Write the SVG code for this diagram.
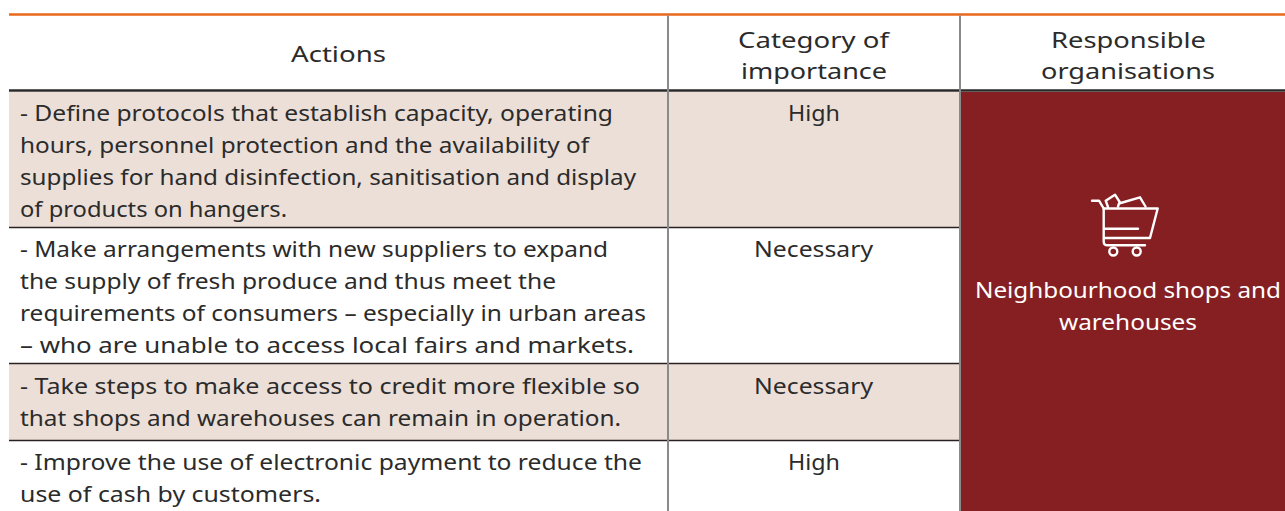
<svg xmlns="http://www.w3.org/2000/svg" width="1285" height="511" viewBox="0 0 1285 511">
<style>
.t{font-family:"Noto Sans","Open Sans","Liberation Sans",sans-serif;font-size:21.5px;fill:#2b2b2b}
.h{font-family:"Noto Sans","Open Sans","Liberation Sans",sans-serif;font-size:22.5px;fill:#2b2b2b;text-anchor:middle}
.c{text-anchor:middle}
.w{font-family:"Noto Sans","Open Sans","Liberation Sans",sans-serif;font-size:21.5px;fill:#ffffff;text-anchor:middle}
.shade{fill:#ecdfd8}
.rowline{stroke:#2a2222;stroke-width:1.5}
.colline{stroke:#8a8a8a;stroke-width:2}
.icon{fill:none;stroke:#ffffff;stroke-width:2.4;stroke-linecap:round;stroke-linejoin:round}
</style>
<rect width="1285" height="511" fill="#ffffff"/>
<g id="header">
<line x1="9" y1="14.5" x2="1285" y2="14.5" stroke="#e8681c" stroke-width="2.5"/>
<text class="h" x="338.5" y="62" textLength="95" lengthAdjust="spacingAndGlyphs">Actions</text>
<text class="h" x="813.5" y="48" textLength="151" lengthAdjust="spacingAndGlyphs">Category of</text>
<text class="h" x="814" y="79" textLength="146" lengthAdjust="spacingAndGlyphs">importance</text>
<text class="h" x="1128.5" y="48" textLength="155" lengthAdjust="spacingAndGlyphs">Responsible</text>
<text class="h" x="1128" y="79" textLength="174" lengthAdjust="spacingAndGlyphs">organisations</text>
</g>
<g id="row1">
<rect class="shade" x="9" y="92" width="951" height="135"/>
<text class="t" x="20" y="121" textLength="593" lengthAdjust="spacingAndGlyphs">- Define protocols that establish capacity, operating</text>
<text class="t" x="20" y="153" textLength="569" lengthAdjust="spacingAndGlyphs">hours, personnel protection and the availability of</text>
<text class="t" x="20" y="185" textLength="616" lengthAdjust="spacingAndGlyphs">supplies for hand disinfection, sanitisation and display</text>
<text class="t" x="20" y="217" textLength="267" lengthAdjust="spacingAndGlyphs">of products on hangers.</text>
<text class="t c" x="814" y="121" textLength="52" lengthAdjust="spacingAndGlyphs">High</text>
</g>
<g id="row2">
<text class="t" x="20" y="257" textLength="588" lengthAdjust="spacingAndGlyphs">- Make arrangements with new suppliers to expand</text>
<text class="t" x="20" y="289" textLength="536" lengthAdjust="spacingAndGlyphs">the supply of fresh produce and thus meet the</text>
<text class="t" x="20" y="321" textLength="626" lengthAdjust="spacingAndGlyphs">requirements of consumers – especially in urban areas</text>
<text class="t" x="20" y="353" textLength="614" lengthAdjust="spacingAndGlyphs">– who are unable to access local fairs and markets.</text>
<text class="t c" x="813.5" y="257" textLength="119" lengthAdjust="spacingAndGlyphs">Necessary</text>
</g>
<g id="row3">
<rect class="shade" x="9" y="364" width="951" height="76"/>
<text class="t" x="20" y="394" textLength="620" lengthAdjust="spacingAndGlyphs">- Take steps to make access to credit more flexible so</text>
<text class="t" x="20" y="426" textLength="601" lengthAdjust="spacingAndGlyphs">that shops and warehouses can remain in operation.</text>
<text class="t c" x="813.5" y="394" textLength="119" lengthAdjust="spacingAndGlyphs">Necessary</text>
</g>
<g id="row4">
<text class="t" x="20" y="470" textLength="622" lengthAdjust="spacingAndGlyphs">- Improve the use of electronic payment to reduce the</text>
<text class="t" x="20" y="502" textLength="301" lengthAdjust="spacingAndGlyphs">use of cash by customers.</text>
<text class="t c" x="814" y="470" textLength="52" lengthAdjust="spacingAndGlyphs">High</text>
</g>
<g id="responsible">
<rect x="961" y="92" width="324" height="419" fill="#861f22"/>
<g class="icon">
<path d="M1092,200.7 H1099 L1103.7,208.5 V241.5 Q1103.7,245.3 1107.5,245.3 H1145"/>
<path d="M1103.7,208.5 H1157.7 L1150,238 H1105"/>
<path d="M1105,228.7 H1138"/>
<circle cx="1113.3" cy="251.5" r="4"/>
<circle cx="1136.7" cy="251.5" r="4"/>
<path d="M1108,207 L1105.7,200.7 L1115,194.7 L1120,202.5"/>
<path d="M1118,206.5 L1119,203.5 L1140,197.3 L1145.5,206.5"/>
</g>
<text class="w" x="1128" y="298" textLength="306" lengthAdjust="spacingAndGlyphs">Neighbourhood shops and</text>
<text class="w" x="1128" y="330" textLength="138" lengthAdjust="spacingAndGlyphs">warehouses</text>
</g>
<g id="grid">
<line x1="9" y1="90.5" x2="1285" y2="90.5" stroke="#2a2a2a" stroke-width="2.5"/>
<line class="rowline" x1="9" y1="227.5" x2="960" y2="227.5"/>
<line class="rowline" x1="9" y1="363.5" x2="960" y2="363.5"/>
<line class="rowline" x1="9" y1="440.5" x2="960" y2="440.5"/>
<line class="colline" x1="668" y1="15.5" x2="668" y2="511"/>
<line class="colline" x1="960" y1="15.5" x2="960" y2="511"/>
</g>
</svg>
